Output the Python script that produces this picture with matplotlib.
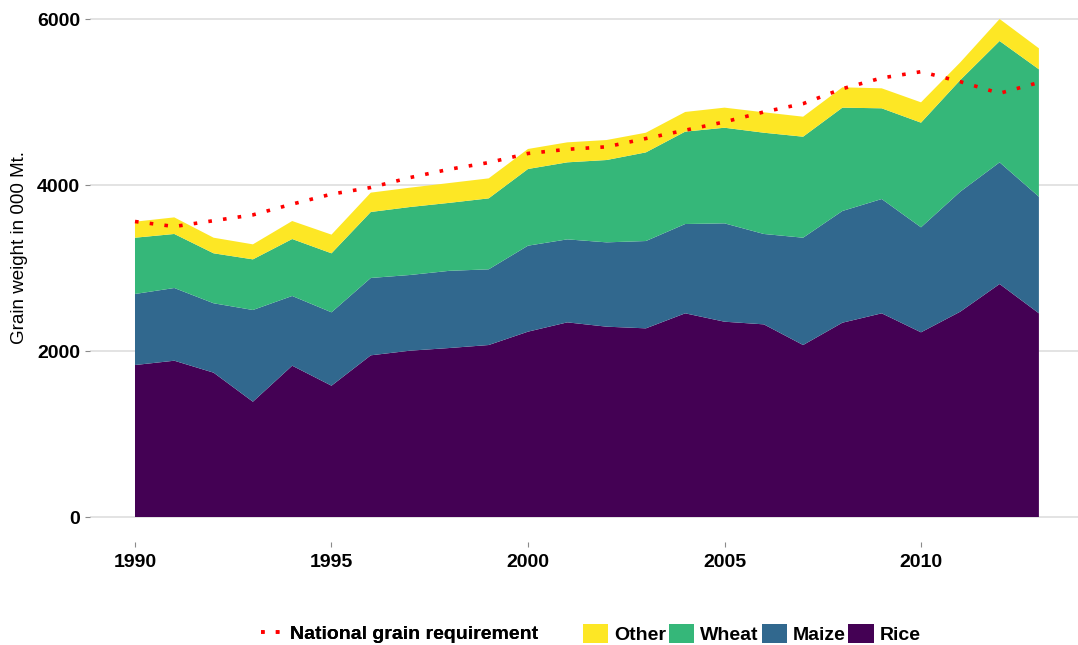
import matplotlib
matplotlib.use("Agg")
import matplotlib.pyplot as plt
from matplotlib.patches import Patch
from matplotlib.lines import Line2D

years = list(range(1990, 2014))
rice = [1831, 1883, 1739, 1389, 1823, 1582, 1948, 2004, 2036, 2072, 2233, 2345,
        2293, 2273, 2454, 2353, 2321, 2072, 2341, 2454, 2225, 2474, 2807, 2454]
maize = [856, 876, 836, 1105, 840, 884, 932, 912, 930, 912, 1036, 1000,
         1016, 1052, 1076, 1185, 1089, 1293, 1346, 1377, 1265, 1446, 1466, 1405]
wheat = [678, 651, 602, 610, 686, 711, 795, 819, 819, 855, 924, 928,
         992, 1068, 1113, 1152, 1220, 1217, 1245, 1093, 1261, 1345, 1462, 1535]
other = [193, 200, 188, 181, 217, 225, 233, 233, 239, 241, 241, 241,
         241, 237, 237, 242, 246, 241, 245, 241, 245, 213, 265, 253]
requirement = [3560, 3500, 3570, 3640, 3770, 3890, 3970, 4090, 4190, 4270, 4380, 4430,
               4460, 4560, 4660, 4760, 4880, 4980, 5160, 5290, 5365, 5245, 5105, 5235]

series_labels = ["Rice", "Maize", "Wheat", "Other"]
colors = {"Rice": "#440154", "Maize": "#31688E", "Wheat": "#35B779", "Other": "#FDE725"}
x_ticks = [1990, 1995, 2000, 2005, 2010]
y_ticks = [0, 2000, 4000, 6000]

plt.rcParams['font.family'] = ['Liberation Sans', 'DejaVu Sans']

W, H = 1078, 645
fig = plt.figure(figsize=(W / 100, H / 100), dpi=100)

# panel in pixel coordinates
px_left, px_right = 89.8, 1084.1
px_top, px_bottom = -5.9, 541.9
ax = fig.add_axes([px_left / W, 1 - px_bottom / H,
                   (px_right - px_left) / W, (px_bottom - px_top) / H])

ax.stackplot(years, rice, maize, wheat, other,
             colors=[colors[s] for s in series_labels], linewidth=0, zorder=2)
ax.plot(years, requirement, color="red", linewidth=2.6,
        linestyle=(0, (1, 3.1)), zorder=3)

ax.set_xlim(1988.85, 2014.15)
ax.set_ylim(-300, 6300)
ax.set_xticks(x_ticks)
ax.set_yticks(y_ticks)
ax.set_xticklabels([str(t) for t in x_ticks])
ax.set_yticklabels([str(t) for t in y_ticks])
ax.grid(axis='y', color='#e3e3e3', linewidth=1.4, zorder=0)
ax.grid(axis='x', visible=False)
ax.set_axisbelow(True)
for sp in ax.spines.values():
    sp.set_visible(False)
ax.tick_params(axis='both', length=3.6, width=0.8, color='#8a8a8a',
               labelsize=14)
ax.tick_params(axis='y', pad=3.5)
ax.tick_params(axis='x', pad=5)
for lab in ax.get_xticklabels() + ax.get_yticklabels():
    lab.set_fontweight('bold')

fig.text(20 / W, 1 - 248 / H, "Grain weight in 000 Mt.", rotation=90,
         ha='center', va='center', fontsize=13.5)

# legends
line_handle = Line2D([], [], color='red', linewidth=2.6, linestyle=(0, (1, 3.1)))
leg1 = fig.legend([line_handle], ["National grain requirement"],
                  loc='center left', bbox_to_anchor=(261 / W, 1 - 634 / H),
                  frameon=False, prop={'weight': 'bold', 'size': 14},
                  handlelength=1.05, handletextpad=0.45, borderpad=0,
                  borderaxespad=0)
patches = [Patch(facecolor=colors[s], edgecolor='none') for s in ["Other", "Wheat", "Maize", "Rice"]]
leg2 = fig.legend(patches, ["Other", "Wheat", "Maize", "Rice"], ncol=4,
                  loc='center left', bbox_to_anchor=(583 / W, 1 - 634 / H),
                  frameon=False, prop={'weight': 'bold', 'size': 14},
                  handlelength=1.3, handleheight=1.15, handletextpad=0.3,
                  columnspacing=0.15, borderpad=0, borderaxespad=0)
fig.add_artist(leg1)

fig.savefig("out.png", dpi=100)
